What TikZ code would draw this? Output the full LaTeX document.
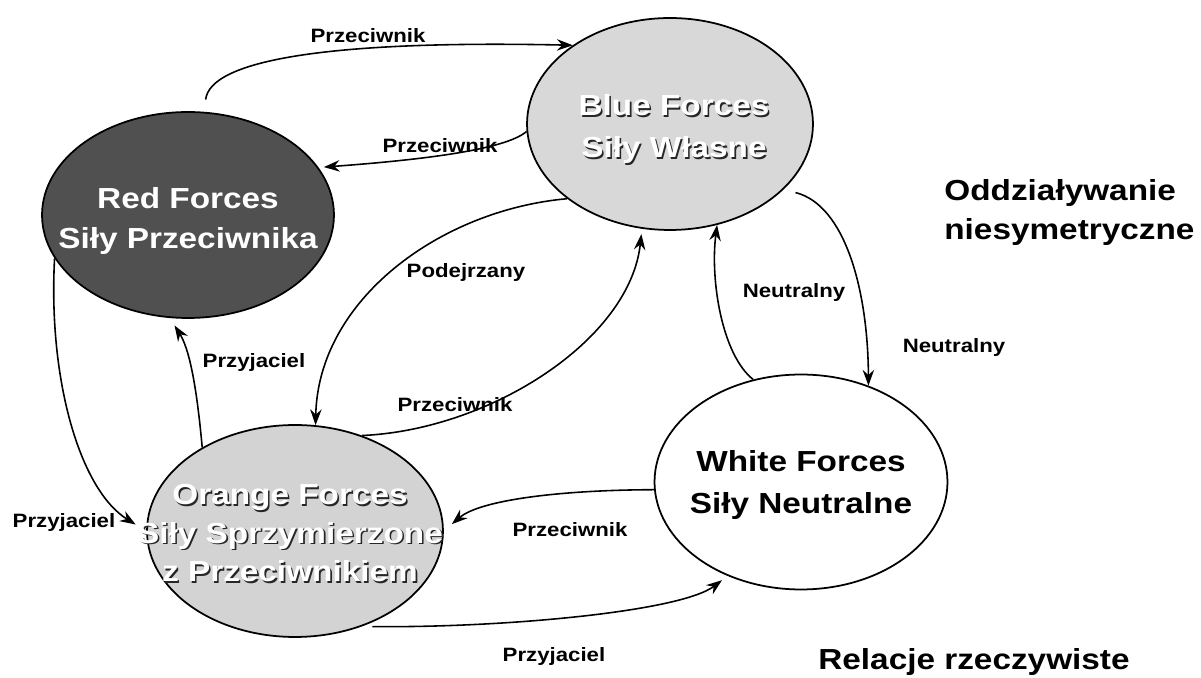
\documentclass[tikz,border=0pt]{standalone}
\usepackage{fontspec}
\setmainfont{Liberation Sans}[FakeStretch=1.15]
\usetikzlibrary{shapes.geometric,arrows.meta}
\definecolor{bluefill}{HTML}{D8D8D8}
\definecolor{redfill}{HTML}{505050}
\definecolor{orangefill}{HTML}{D3D3D3}
\newcommand\shtext[1]{\leavevmode\rlap{\kern0.9pt\raisebox{-0.9pt}{\color{black!85}#1}}{\color{white}#1}}
\begin{document}
\begin{tikzpicture}[x=0.02cm,y=-0.02cm,>={Stealth[length=9pt,width=6.5pt,inset=3pt]},
  force/.style={ellipse,draw,line width=1pt,inner sep=0pt},
  forcetxt/.style={inner sep=0pt,align=center},
  rel/.style={->,line width=0.9pt},
  lbl/.style={inner sep=0pt,anchor=base,font=\fontsize{11}{13}\selectfont\bfseries},
  ttl/.style={inner sep=0pt,align=left,font=\fontsize{16.5}{22}\selectfont\bfseries}]
\useasboundingbox (0,0) rectangle (1201,678);
% forces
\node[force,fill=bluefill,minimum width=5.72cm,minimum height=4.24cm] (blue) at (670,124) {};
\node[force,fill=redfill,minimum width=5.84cm,minimum height=4.12cm] (red) at (188,215) {};
\node[force,fill=orangefill,minimum width=5.92cm,minimum height=4.24cm] (orange) at (295,531) {};
\node[force,fill=white,minimum width=5.86cm,minimum height=4.3cm] (white) at (801,482) {};
\node[forcetxt,font=\fontsize{16.5}{23.8}\selectfont\bfseries] (bluetxt) at (674,130)
  {\shtext{Blue Forces}\\\shtext{Siły Własne}};
\node[forcetxt,text=white,font=\fontsize{16.5}{22.7}\selectfont\bfseries] (redtxt) at (188,221)
  {Red Forces\\Siły Przeciwnika};
\node[forcetxt,font=\fontsize{16.5}{22}\selectfont\bfseries] (orangetxt) at (290,534)
  {\shtext{Orange Forces}\\\shtext{Siły Sprzymierzone}\\\shtext{z Przeciwnikiem}};
\node[forcetxt,font=\fontsize{16.5}{24.4}\selectfont\bfseries] (whitetxt) at (801,485)
  {White Forces\\Siły Neutralne};
% relations
\draw[rel,shorten <=7pt] (red.81) .. controls (210,60) and (330,40) .. (blue.141);
\draw[rel,shorten >=3pt] (blue.183) .. controls (505,150) and (420,160) .. (red.20);
\draw[rel] (blue.216) .. controls (440,210) and (318,300) .. (orange.79);
\draw[rel,shorten >=3pt] (orange.55) .. controls (490,430) and (630,340) .. (blue.255);
\draw[rel,shorten >=5pt] (orange.138) .. controls (197,390) and (190,350) .. (red.260);
\draw[rel,shorten >=7pt] (red.198) .. controls (48,380) and (80,490) .. (orange.west);
\draw[rel,shorten >=6pt] (white.183) .. controls (560,490) and (480,500) .. (orange.east);
\draw[rel,shorten <=6pt,shorten >=4pt] (orange.305) .. controls (500,628) and (680,612) .. (white.232);
\draw[rel] (white.115) .. controls (722,355) and (710,280) .. (blue.295);
\draw[rel,shorten <=7pt] (blue.330) .. controls (845,205) and (868,290) .. (white.55);
% labels
\node[lbl] (lab1) at (368,43) {Przeciwnik};
\node[lbl] (lab2) at (440,153) {Przeciwnik};
\node[lbl] (lab3) at (466,278) {Podejrzany};
\node[lbl] (lab4) at (455,412) {Przeciwnik};
\node[lbl] (lab5) at (254,368) {Przyjaciel};
\node[lbl] (lab6) at (64,528) {Przyjaciel};
\node[lbl] (lab7) at (570,537) {Przeciwnik};
\node[lbl] (lab8) at (554,662) {Przyjaciel};
\node[lbl] (lab9) at (794,298) {Neutralny};
\node[lbl] (lab10) at (954,353) {Neutralny};
\node[ttl,anchor=north west] (ttl1) at (944,179) {Oddziaływanie\\niesymetryczne};
\node[ttl,anchor=base west] (ttl2) at (818,670) {Relacje rzeczywiste};
\end{tikzpicture}
\end{document}
